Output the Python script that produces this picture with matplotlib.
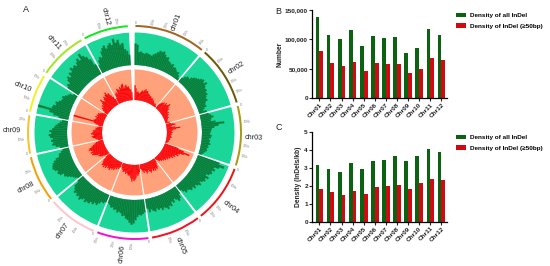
import numpy as np
import matplotlib
matplotlib.use('Agg')
import matplotlib.pyplot as plt

plt.rcParams['font.family'] = ['Liberation Sans', 'DejaVu Sans']

W, H = 550, 266
chroms_lower = ['chr01','chr02','chr03','chr04','chr05','chr06','chr07','chr08','chr09','chr10','chr11','chr12']
chroms = ['Chr01','Chr02','Chr03','Chr04','Chr05','Chr06','Chr07','Chr08','Chr09','Chr10','Chr11','Chr12']
lengths_mb = [43, 36, 36, 35, 30, 31, 30, 28, 23, 23, 29, 27]
ring_colors = ['#a3651f','#6b5a05','#a89a12','#e81818','#f01522','#f014d2',
               '#ffc4cc','#f0a208','#fdc22a','#f2f02a','#a6e424','#14e81c']

number_all = [138000,107000,101000,115500,88000,106000,102000,103500,77500,86000,118000,108000]
number_large = [79500,60000,55000,62000,45500,60500,58500,58500,42500,50000,69000,64000]
density_all = [3.18,2.97,2.77,3.27,2.95,3.40,3.43,3.65,3.37,3.68,4.07,3.92]
density_large = [1.83,1.68,1.52,1.73,1.53,1.93,1.97,2.03,1.83,2.17,2.37,2.32]

# Percent of ring height, read along each chromosome, clockwise
green_profiles = [
    [66,62,40,42,38,36,40,38,36,34,40,44,50,56,54,58,50,44,46,36,34,30,34,26,28,24,20,22,14,8],
    [16,24,30,28,36,42,46,50,56,60,54,62,52,48,50,44,46,40,36,38,30,26,28,20,14,24],
    [28,34,40,32,30,44,70,52,38,30,28,26,24,30,28,22,26,24,28,22,24,20,22,18,14,10],
    [70,88,74,60,66,58,62,56,48,60,52,56,50,44,52,46,40,46,38,42,36,32,36,28,20],
    [26,38,44,36,30,40,34,46,42,50,44,40,46,38,42,36,44,40,34,42,30],
    [40,44,48,46,52,62,72,76,70,62,58,50,52,44,40,44,36,38,32,34,28,24],
    [24,30,28,36,44,40,48,44,52,50,56,48,54,60,52,56,50,54,46,40,22],
    [16,22,26,32,40,46,44,56,60,56,64,68,66,62,56,48,36,34,26,20],
    [26,38,48,44,50,44,52,56,48,54,46,40,36,30,24,18],
    [30,48,62,100,58,56,48,52,44,38,36,40,34,28,24,14],
    [40,46,42,54,60,52,64,60,72,66,70,64,72,80,70,88,76,68,56,34],
    [26,40,48,44,62,70,76,64,72,78,70,88,74,82,66,70,50,44,32],
]
red_profiles = [
    [48,38,26,28,24,22,26,30,34,30,36,40,34,36,30,28,26,22,24,20,18,20,14,16,12,10,8,10,6,4],
    [18,24,28,32,26,36,30,34,42,34,28,30,24,20,24,18,20,16,14,16,12,10,8,8,6,14],
    [16,24,30,18,14,28,44,30,20,16,14,18,14,16,14,12,14,16,12,10,12,8,10,8,6,4],
    [46,66,88,70,58,52,56,44,48,40,44,34,38,30,34,26,30,24,26,20,22,16,18,12,8],
    [14,20,30,34,28,36,30,34,26,32,36,30,24,30,34,26,22,30,24,18,14],
    [24,30,36,32,42,48,52,46,54,44,38,34,36,30,28,32,26,24,28,22,18,14],
    [18,24,20,28,24,34,30,36,32,42,36,40,34,44,38,46,40,44,36,30,18],
    [10,18,26,30,34,28,38,44,50,46,52,44,48,54,50,42,36,30,24,16],
    [14,20,24,30,34,26,30,36,32,28,30,24,20,22,16,12],
    [14,24,30,100,34,30,28,26,32,24,30,26,28,22,18,12],
    [12,20,26,24,32,28,36,48,38,34,42,48,42,50,56,46,48,38,30,20],
    [20,34,38,32,48,44,40,50,46,54,58,42,48,52,44,46,38,34,26],
]

fig = plt.figure(figsize=(W/100, H/100), dpi=100)

# ---------- A: circular panel ----------
cx, cy, rmax = 134.5, 132.5, 130
pol = fig.add_axes([(cx-rmax)/W, 1-(cy+rmax)/H, 2*rmax/W, 2*rmax/H], projection='polar')
pol.set_theta_zero_location('N')
pol.set_theta_direction(-1)
pol.set_ylim(0, rmax)
pol.axis('off')
pol.patch.set_alpha(0)

deg_per_mb, gap, pad = 0.9, 2.0, 0.4
g0, g1 = 67.5, 100
r0, r1 = 32.5, 63
ring_in, ring_out = 105.5, 107.5
label_angle = [21, 58, 92.6, 127.6, 158, 186, 216, 243, 271, 292, 318, 346]
label_radius = [118, 121, 119, 122, 122, 122, 122, 122, 123, 121, 121, 120]
rad = np.deg2rad

def radial(a):
    a = a % 360
    return 90-a if a <= 180 else 270-a

start = 0.5
for i, name in enumerate(chroms_lower):
    span = lengths_mb[i]*deg_per_mb
    mid = start + span/2
    band = span + 2*pad
    pol.bar(rad(mid), g1-g0, width=rad(band), bottom=g0, color='#1ad698', lw=0)
    pol.bar(rad(mid), r1-r0, width=rad(band), bottom=r0, color='#ffa27c', lw=0)
    pol.bar(rad(mid), ring_out-ring_in, width=rad(span), bottom=ring_in, color=ring_colors[i], lw=0)
    for prof, b0, b1, col in ((green_profiles[i], g0, g1, '#0a7f3c'), (red_profiles[i], r0, r1, '#fb0007')):
        vals = np.array(prof)/100*(b1-b0)
        w = band/len(vals)
        th = start - pad + w*(np.arange(len(vals))+0.5)
        pol.bar(rad(th), vals, width=rad(w), bottom=b0, color=col, edgecolor=col, lw=0.1)
    la = label_angle[i]
    pol.text(rad(la), label_radius[i], name, fontsize=5.2, color='#222222', rotation=radial(la),
             rotation_mode='anchor', ha='center', va='center')
    for mb in range(0, lengths_mb[i], 10):
        a = start + mb*deg_per_mb
        if mb:
            a_txt = a
            if abs(a_txt-la) < 4:
                a_txt = la + (4.5 if a_txt >= la else -4.5)
            pol.text(rad(a_txt), 113, f'{mb}Mb', fontsize=2.0, color='#888888',
                     rotation=radial(a_txt), rotation_mode='anchor', ha='center', va='center')
        else:
            pol.text(rad(a), 110, '0', fontsize=2.0, color='#666666', ha='center', va='center')
    start += span + gap

fig.text(23/W, 1-10/H, 'A', fontsize=6.5, ha='left', va='center', color='#222222')
fig.text(275/W, 1-11/H, 'B', fontsize=6.5, ha='left', va='center', color='#222222')
fig.text(275/W, 1-127/H, 'C', fontsize=6.5, ha='left', va='center', color='#222222')

# ---------- B and C: bar panels ----------
def bars(top, bottom, all_vals, large_vals, ymax, ticks, ticklabels, ylabel, ylab_x, leg_y):
    left, right = 312, 447
    ax = fig.add_axes([left/W, 1-bottom/H, (right-left)/W, (bottom-top)/H])
    x = np.arange(len(chroms))
    w = 0.34
    b1 = ax.bar(x-w/2, all_vals, w, color='#0b6312')
    b2 = ax.bar(x+w/2, large_vals, w, color='#cf0a12')
    ax.set_xlim(-0.66, 11.5)
    ax.set_ylim(0, ymax)
    ax.set_yticks(ticks, ticklabels)
    ax.set_xticks(x, chroms, rotation=45, ha='right', rotation_mode='anchor')
    ax.tick_params(axis='both', labelsize=4.6, length=2, width=0.8, pad=1, colors='#222222')
    for lab in ax.get_xticklabels() + ax.get_yticklabels():
        lab.set_fontweight('bold')
    for s in ('top', 'right'):
        ax.spines[s].set_visible(False)
    for s in ('left', 'bottom'):
        ax.spines[s].set_linewidth(0.9)
    fig.text(ylab_x/W, 1-(top+bottom)/2/H, ylabel, rotation=90, fontsize=4.8, fontweight='bold',
             ha='center', va='center', color='#222222')
    fig.legend([b1, b2], ['Density of all InDel', 'Density of InDel (≥50bp)'],
               loc='upper left', bbox_to_anchor=(456/W, 1-leg_y/H), frameon=False,
               prop={'size': 4.6, 'weight': 'bold'}, handlelength=1.5, handleheight=0.7,
               labelspacing=0.75, handletextpad=0.75, borderpad=0, borderaxespad=0)

bars(10, 98, number_all, number_large, 150000, [0, 50000, 100000, 150000],
     ['0', '50,000', '100,000', '150,000'], 'Number', 280, 13)
bars(132.3, 221.7, density_all, density_large, 5, [0, 1, 2, 3, 4, 5],
     ['0', '1', '2', '3', '4', '5'], 'Density (InDels/kb)', 298, 135)

fig.savefig('out.png', dpi=100)
